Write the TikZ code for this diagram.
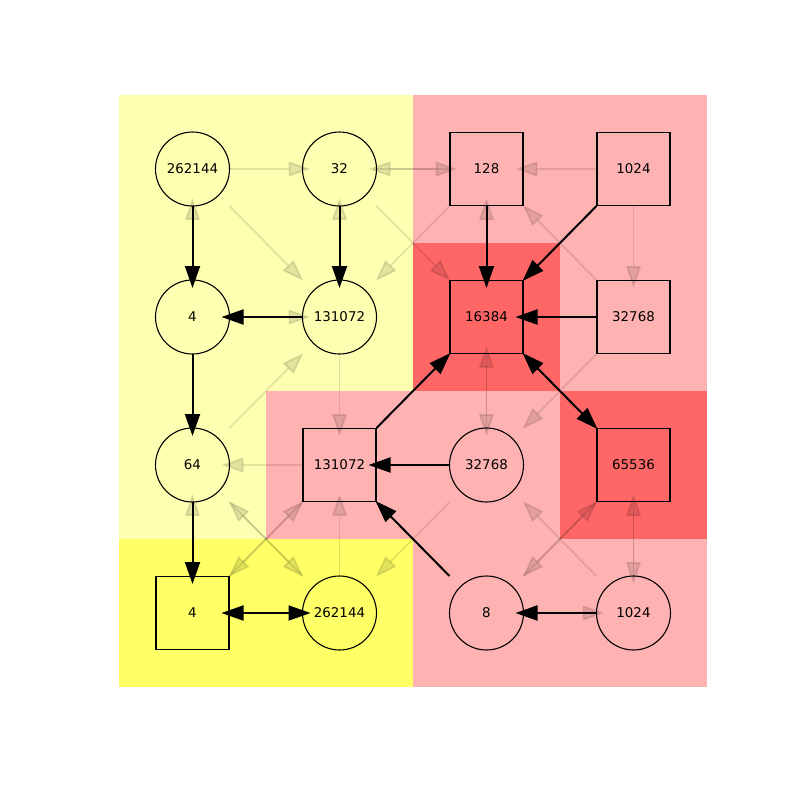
\documentclass[tikz,border=0pt]{standalone}
\usepackage{fontspec}
\setmainfont{DejaVu Sans}
\usetikzlibrary{arrows.meta,calc}

\definecolor{paleyellow}{RGB}{255,255,178}
\definecolor{brightyellow}{RGB}{255,255,102}
\definecolor{palered}{RGB}{255,178,178}
\definecolor{strongred}{RGB}{255,102,102}

\tikzset{
  cnode/.style={circle,draw,line width=0.55pt,minimum size=37pt,inner sep=0pt,
                font=\fontsize{6.7}{8}\selectfont},
  snode/.style={rectangle,draw,line width=0.55pt,minimum size=36.5pt,inner sep=0pt,
                font=\fontsize{6.7}{8}\selectfont},
  headtip/.tip={Triangle[length=11pt,width=7.5pt]},
  strong/.style={line width=1pt,-headtip},
  strongboth/.style={line width=1pt,headtip-headtip},
  weak/.style={line width=0.9pt,opacity=0.11,-headtip},
}

% straight link: dx,dy in {-1,0,1}; tail on the source border, tip inside the target
\newcommand\olink[5]{\draw[#1] ($(#2)+({#4*37},{#5*37})$) -- ($(#3)-({#4*29},{#5*29})$);}
% diagonal link: corner to corner
\newcommand\dlink[5]{\draw[#1] ($(#2)+({#4*37},{#5*37})$) -- ($(#3)-({#4*36},{#5*36})$);}

\begin{document}
\begin{tikzpicture}[x=0.5pt,y=-0.5pt]
\useasboundingbox (0,0) rectangle (800,800);

% cell backgrounds
\fill[paleyellow] (119,95) rectangle (266,539);
\fill[paleyellow] (266,95) rectangle (413,391);
\fill[brightyellow] (119,539) rectangle (413,687);
\fill[palered] (413,95) rectangle (707,687);
\fill[palered] (266,391) rectangle (413,539);
\fill[strongred] (413,243) rectangle (560,391);
\fill[strongred] (560,391) rectangle (707,539);

% nodes
\node[cnode] (n00) at (192.5,169) {262144};
\node[cnode] (n01) at (339.5,169) {32};
\node[snode] (n02) at (486.5,169) {128};
\node[snode] (n03) at (633.5,169) {1024};
\node[cnode] (n10) at (192.5,317) {4};
\node[cnode] (n11) at (339.5,317) {131072};
\node[snode] (n12) at (486.5,317) {16384};
\node[snode] (n13) at (633.5,317) {32768};
\node[cnode] (n20) at (192.5,465) {64};
\node[snode] (n21) at (339.5,465) {131072};
\node[cnode] (n22) at (486.5,465) {32768};
\node[snode] (n23) at (633.5,465) {65536};
\node[snode] (n30) at (192.5,613) {4};
\node[cnode] (n31) at (339.5,613) {262144};
\node[cnode] (n32) at (486.5,613) {8};
\node[cnode] (n33) at (633.5,613) {1024};

% faint links
\olink{weak}{n00}{n01}{1}{0}
\olink{weak}{n02}{n01}{-1}{0}
\olink{weak}{n01}{n02}{1}{0}
\olink{weak}{n03}{n02}{-1}{0}
\olink{weak}{n10}{n00}{0}{-1}
\olink{weak}{n11}{n01}{0}{-1}
\olink{weak}{n12}{n02}{0}{-1}
\dlink{weak}{n13}{n02}{-1}{-1}
\olink{weak}{n03}{n13}{0}{1}
\dlink{weak}{n00}{n11}{1}{1}
\dlink{weak}{n02}{n11}{-1}{1}
\dlink{weak}{n01}{n12}{1}{1}
\olink{weak}{n10}{n11}{1}{0}
\dlink{weak}{n20}{n11}{1}{-1}
\olink{weak}{n11}{n21}{0}{1}
\olink{weak}{n21}{n20}{-1}{0}
\olink{weak}{n30}{n20}{0}{-1}
\dlink{weak}{n31}{n20}{-1}{-1}
\dlink{weak}{n30}{n21}{1}{-1}
\olink{weak}{n31}{n21}{0}{-1}
\olink{weak}{n22}{n12}{0}{-1}
\olink{weak}{n12}{n22}{0}{1}
\dlink{weak}{n13}{n22}{-1}{1}
\dlink{weak}{n33}{n22}{-1}{-1}
\dlink{weak}{n32}{n23}{1}{-1}
\olink{weak}{n33}{n23}{0}{-1}
\dlink{weak}{n21}{n30}{-1}{1}
\dlink{weak}{n20}{n31}{1}{1}
\dlink{weak}{n22}{n31}{-1}{1}
\dlink{weak}{n23}{n32}{-1}{1}
\olink{weak}{n23}{n33}{0}{1}
\olink{weak}{n32}{n33}{1}{0}

% strong links
\olink{strong}{n00}{n10}{0}{1}
\olink{strong}{n01}{n11}{0}{1}
\olink{strong}{n02}{n12}{0}{1}
\dlink{strong}{n03}{n12}{-1}{1}
\olink{strong}{n11}{n10}{-1}{0}
\olink{strong}{n13}{n12}{-1}{0}
\olink{strong}{n10}{n20}{0}{1}
\dlink{strong}{n21}{n12}{1}{-1}
\olink{strong}{n22}{n21}{-1}{0}
\olink{strong}{n20}{n30}{0}{1}
\dlink{strong}{n32}{n21}{-1}{-1}
\olink{strong}{n33}{n32}{-1}{0}
\draw[strongboth] ($(n12)+(36,36)$) -- ($(n23)-(36,36)$);
\draw[strongboth] ($(n30)+(29,0)$) -- ($(n31)-(29,0)$);
\end{tikzpicture}
\end{document}
